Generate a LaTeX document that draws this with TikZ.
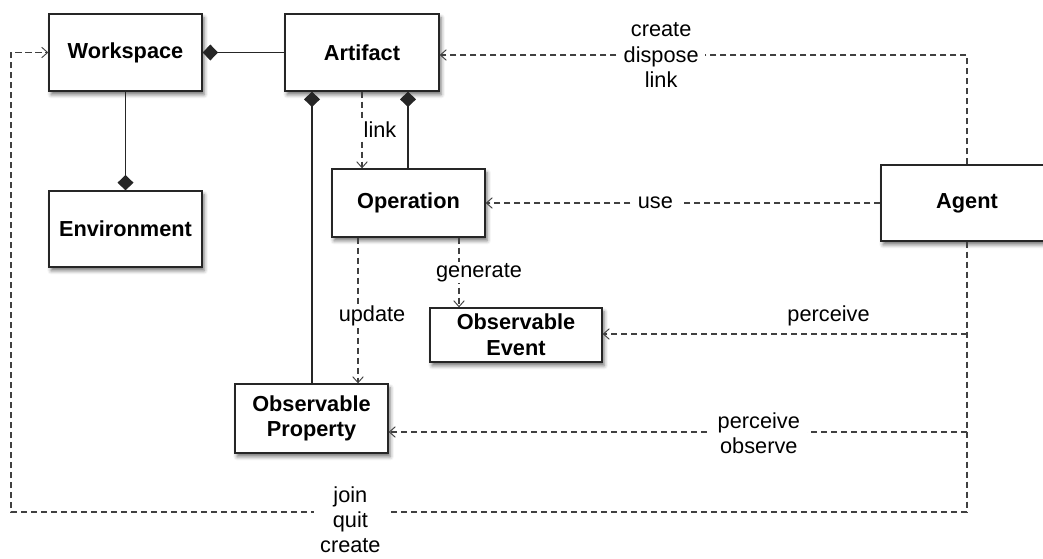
\documentclass[tikz,border=0pt]{standalone}
\usepackage{fontspec}
\setmainfont{Liberation Sans}
\usetikzlibrary{arrows.meta,shadows.blur,calc}

\begin{document}
\begin{tikzpicture}[
  x=0.75pt, y=-0.75pt,
  every node/.style={font=\fontsize{16.3}{19.3}\selectfont, align=center},
  box/.style 2 args={draw=black!85, line width=1pt, fill=white, inner sep=0pt,
    minimum width=#1*0.75pt, minimum height=#2*0.75pt, font=\fontsize{16.3}{19.3}\selectfont\bfseries,
    blur shadow={shadow xshift=1.6pt, shadow yshift=-2.8pt, shadow blur radius=2.8pt, shadow opacity=55}},
  comp/.style={draw=black!85, line width=0.9pt, {Diamond[length=11.5pt,width=12pt]}-},
  dep/.style={draw=black!75, line width=0.9pt, dash pattern=on 4.6pt off 2.9pt,
    -{Straight Barb[length=4.5pt,width=8pt,line width=0.7pt]}},
  lbl/.style={fill=white, inner xsep=5pt, inner ysep=1pt},
]
\useasboundingbox (0,0) rectangle (1043,558);

% classes
\node[box={153}{77}] (ws)    at (125.5,52.5) {Workspace};
\node[box={154}{77}] (art)   at (362,52.5)   {Artifact};
\node[box={153}{76}] (env)   at (125.5,229)  {Environment};
\node[box={153}{68}] (op)    at (408.5,203)  {Operation};
\node[box={172}{54}] (ev)    at (516,335)    {Observable\\Event};
\node[box={153}{69}] (prop)  at (311.5,418.5){Observable\\Property};
\node[box={172}{76}] (agent) at (967,203)    {Agent};

% bends of the agent's connectors
\coordinate (top)  at (967,55);
\coordinate (pe)   at (967,334);
\coordinate (po)   at (967,432);
\coordinate (bot)  at (967,512);
\coordinate (bl)   at (11,512);
\coordinate (tl)   at (11,52.5);

% composition
\draw[comp] (ws.east) -- (art.west);
\draw[comp] (env.north) -- (ws.south);
\draw[comp] (art.south -| 312,0) -- (prop.north -| 312,0);
\draw[comp] (art.south -| 408,0) -- (op.north -| 408,0);

% dependencies inside the artifact
\draw[dep] (art.south -| 362,0) -- node[lbl, inner xsep=2pt, xshift=18pt*0.75, pos=0.5]{link} (op.north -| 362,0);
\draw[dep] (op.south -| 459,0) -- node[lbl, inner xsep=2pt, xshift=20pt*0.75, pos=0.5]{generate} (ev.north -| 459,0);
\draw[dep] (op.south -| 358,0) -- node[lbl, inner xsep=2pt, xshift=14pt*0.75, pos=0.54]{update} (prop.north -| 358,0);

% agent actions
\draw[dep] (agent.west) -- node[lbl, pos=0.57]{use} (op.east);
\draw[dep] (agent.north -| top) -- (top) -- node[lbl, pos=0.58]{create\\dispose\\link} (art.east |- top);
\draw[dep] (pe) -- node[above=2pt, pos=0.38]{perceive} (ev.east |- pe);
\draw[dep] (po) -- node[lbl, pos=0.36, yshift=-1pt]{perceive\\observe} (prop.east |- po);
\draw[dep, -] (agent.south -| bot) -- (bot);
\draw[dep] (bot) -- node[lbl, inner ysep=0pt, pos=0.645, yshift=-6pt,
  font=\fontsize{16.3}{18.8}\selectfont]{join\\quit\\create} (bl) -- (tl) -- (ws.west);
\end{tikzpicture}
\end{document}
